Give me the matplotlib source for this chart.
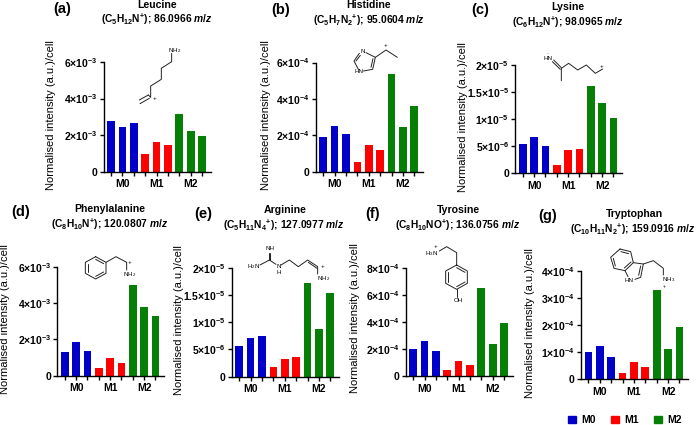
import numpy as np
import matplotlib
matplotlib.use("Agg")
import matplotlib.pyplot as plt
from matplotlib.patches import Patch

plt.rcParams["font.family"] = "Liberation Sans"
plt.rcParams["font.weight"] = "bold"
plt.rcParams["mathtext.fontset"] = "custom"
plt.rcParams["mathtext.rm"] = "Liberation Sans:bold"
plt.rcParams["mathtext.it"] = "Liberation Sans:italic:bold"
plt.rcParams["mathtext.bf"] = "Liberation Sans:bold"
plt.rcParams["mathtext.default"] = "regular"

W, H = 697, 425
BLUE, RED, GREEN = "#0000c8", "#ff0000", "#067f06"

letters = ["(a)", "(b)", "(c)", "(d)", "(e)", "(f)", "(g)"]
names = ["Leucine", "Histidine", "Lysine", "Phenylalanine", "Arginine", "Tyrosine", "Tryptophan"]
formulas = [
    r"(C$_5$H$_{12}$N$^{+}$); 86.0966 $\mathit{m/z}$",
    r"(C$_5$H$_7$N$_2$$^{+}$); 95.0604 $\mathit{m/z}$",
    r"(C$_6$H$_{12}$N$^{+}$); 98.0965 $\mathit{m/z}$",
    r"(C$_8$H$_{10}$N$^{+}$); 120.0807 $\mathit{m/z}$",
    r"(C$_5$H$_{11}$N$_4$$^{+}$); 127.0977 $\mathit{m/z}$",
    r"(C$_8$H$_{10}$NO$^{+}$); 136.0756 $\mathit{m/z}$",
    r"(C$_{10}$H$_{11}$N$_2$$^{+}$); 159.0916 $\mathit{m/z}$",
]

leucine = [2.75e-3, 2.46e-3, 2.68e-3, 0.94e-3, 1.63e-3, 1.45e-3, 3.16e-3, 2.20e-3, 1.93e-3]
histidine = [1.89e-4, 2.50e-4, 2.09e-4, 0.53e-4, 1.45e-4, 1.19e-4, 5.34e-4, 2.44e-4, 3.61e-4]
lysine = [5.4e-6, 6.77e-6, 5.1e-6, 1.54e-6, 4.37e-6, 4.5e-6, 16.1e-6, 13.0e-6, 10.3e-6]
phenylalanine = [1.30e-3, 1.85e-3, 1.36e-3, 0.40e-3, 0.97e-3, 0.70e-3, 4.99e-3, 3.76e-3, 3.30e-3]
arginine = [5.7e-6, 7.16e-6, 7.5e-6, 1.8e-6, 3.3e-6, 3.7e-6, 17.2e-6, 8.75e-6, 15.3e-6]
tyrosine = [1.99e-4, 2.63e-4, 1.87e-4, 0.45e-4, 1.15e-4, 0.83e-4, 6.53e-4, 2.36e-4, 3.93e-4]
tryptophan = [1.00e-4, 1.23e-4, 0.83e-4, 0.23e-4, 0.64e-4, 0.44e-4, 3.31e-4, 1.11e-4, 1.94e-4]
series = [leucine, histidine, lysine, phenylalanine, arginine, tyrosine, tryptophan]

ticks_3 = ([0, 2e-3, 4e-3, 6e-3], ["0", "2×10$^{-3}$", "4×10$^{-3}$", "6×10$^{-3}$"])
ticks_4 = ([0, 2e-4, 4e-4, 6e-4], ["0", "2×10$^{-4}$", "4×10$^{-4}$", "6×10$^{-4}$"])
ticks_5 = ([0, 5e-6, 1e-5, 1.5e-5, 2e-5], ["0", "5×10$^{-6}$", "1×10$^{-5}$", "1.5×10$^{-5}$", "2×10$^{-5}$"])
ticks_8 = ([0, 2e-4, 4e-4, 6e-4, 8e-4], ["0", "2×10$^{-4}$", "4×10$^{-4}$", "6×10$^{-4}$", "8×10$^{-4}$"])
ticks_g = ([0, 1e-4, 2e-4, 3e-4, 4e-4], ["0", "1×10$^{-4}$", "2×10$^{-4}$", "3×10$^{-4}$", "4×10$^{-4}$"])
yticks = [ticks_3, ticks_4, ticks_5, ticks_3, ticks_5, ticks_8, ticks_g]

# left, top, right, bottom of each axes in pixels
boxes = [
    (103.5, 62, 210.7, 171.5), (315.7, 62.5, 423, 171.5), (515.3, 65, 622, 173.3),
    (57.3, 266.7, 164, 375.7), (231.7, 267.7, 339, 376.7), (405.7, 267.7, 512.7, 376.3),
    (581, 271, 688, 379.3),
]
# text centres in pixels
ylabel_pos = [(51, 115), (266, 115), (463, 117), (5.5, 319), (179, 320), (355, 318), (530, 323)]
letter_pos = [(62, 9), (281, 9.5), (480, 10), (21, 212), (203, 214), (373, 214), (548, 216)]
name_pos = [(157, 5), (369, 5), (568, 7), (110, 209), (285, 210), (458, 210), (634, 214)]
formula_pos = [(157, 19), (369, 20), (568, 22), (110, 224), (284, 225), (458, 225), (633, 229)]

fig = plt.figure(figsize=(W / 100, H / 100), dpi=100)
colors = [BLUE] * 3 + [RED] * 3 + [GREEN] * 3

for i, vals in enumerate(series):
    l, t, r, b = boxes[i]
    ax = fig.add_axes([l / W, 1 - b / H, (r - l) / W, (b - t) / H])
    ax.bar(np.arange(9), vals, width=0.68, color=colors)
    ax.set_xlim(-0.66, 8.76)
    ax.set_ylim(0, yticks[i][0][-1])
    ax.set_yticks(yticks[i][0], yticks[i][1], fontsize=7.5)
    ax.set_xticks(np.arange(9))
    ax.set_xticklabels([])
    ax.tick_params(length=3, width=1, pad=1.5)
    for s in ["top", "right"]:
        ax.spines[s].set_visible(False)
    for s in ["left", "bottom"]:
        ax.spines[s].set_linewidth(1)
    for j, lab in zip([1, 4, 7], ["M0", "M1", "M2"]):
        ax.annotate(lab, (j, 0), xycoords=("data", "axes fraction"), xytext=(0, -5.5),
                    textcoords="offset points", ha="center", va="top", fontsize=7.5)

# overlay in pixel coordinates for titles and structures
ov = fig.add_axes([0, 0, 1, 1], zorder=5)
ov.set_xlim(0, W)
ov.set_ylim(H, 0)
ov.axis("off")

for i in range(7):
    ov.text(*ylabel_pos[i], "Normalised intensity (a.u.)/cell", rotation=90, ha="center", va="center",
            fontsize=8, fontweight="normal")
    ov.text(*letter_pos[i], letters[i], ha="center", va="center", fontsize=10.5)
    ov.text(*name_pos[i], names[i], ha="center", va="center", fontsize=7.6)
    ov.text(*formula_pos[i], formulas[i], ha="center", va="center", fontsize=7.4)


def bonds(ox, oy, paths):
    for p in paths:
        a = np.array(p, dtype=float) / 3
        ov.plot(a[:, 0] + ox, a[:, 1] + oy, color="#222222", lw=0.7, solid_capstyle="round")


def label(ox, oy, x, y, s, size=4.5):
    ov.text(ox + x / 3, oy + y / 3, s, ha="center", va="center", fontsize=size, fontweight="normal")


# leucine
bonds(0, 0, [[(515, 160), (515, 185), (484, 205), (484, 238), (452, 258), (452, 292), (445, 285)],
             [(445, 285), (418, 300)], [(448, 295), (420, 311)]])
label(0, 0, 525, 152, "NH$_2$")
label(0, 0, 463, 295, "+")
# histidine
bonds(230, 0, [[(408, 158), (436, 172), (428, 208), (400, 213)], [(385, 208), (372, 183), (388, 160)],
               [(429, 176), (423, 202)], [(378, 183), (391, 166)], [(436, 172), (468, 150), (502, 172)]])
label(230, 0, 397, 154, "N")
label(230, 0, 386, 214, "HN")
label(230, 0, 468, 137, "+")
# lysine
bonds(457, 0, [[(290, 180), (313, 203)], [(286, 185), (310, 208)],
               [(313, 242), (313, 205), (335, 190), (362, 210), (388, 195), (415, 220), (437, 207)]])
label(457, 0, 272, 176, "HN")
label(457, 0, 272, 160, "·")
label(457, 0, 433, 198, "+")
# phenylalanine
bonds(0, 205, [[(287, 155), (318, 172), (318, 205), (287, 222), (256, 205), (256, 172), (287, 155)],
               [(287, 163), (311, 176)], [(311, 201), (287, 214)], [(263, 201), (263, 176)],
               [(318, 172), (348, 155), (380, 172), (380, 195)]])
label(0, 205, 390, 210, "NH$_2$")
label(0, 205, 390, 173, "+")
# arginine
bonds(170, 205, [[(296, 143), (296, 165)], [(301, 143), (301, 165)], [(270, 180), (298, 165), (318, 178)],
                 [(333, 180), (358, 165), (385, 185), (413, 165), (443, 185), (443, 207)], [(415, 172), (441, 190)]])
label(170, 205, 300, 130, "NH")
label(170, 205, 252, 185, "H$_2$N")
label(170, 205, 325, 186, "N")
label(170, 205, 325, 203, "H")
label(170, 205, 460, 220, "NH$_2$")
label(170, 205, 458, 183, "+")
# tyrosine
bonds(350, 205, [[(268, 138), (290, 125), (320, 143), (320, 180), (352, 198), (352, 235), (320, 253),
                  (287, 235), (287, 198), (320, 180)], [(320, 188), (345, 202)], [(345, 231), (320, 245)],
                 [(294, 231), (294, 202)], [(320, 253), (320, 275)]])
label(350, 205, 245, 145, "H$_3$N")
label(350, 205, 258, 125, "+")
label(350, 205, 325, 287, "OH")
# tryptophan
bonds(600, 240, [[(60, 27), (92, 35), (100, 68), (75, 92), (42, 85), (32, 52), (60, 27)],
                 [(63, 35), (86, 41)], [(93, 66), (73, 84)], [(46, 78), (40, 55)],
                 [(100, 68), (130, 72), (122, 112), (105, 118)], [(75, 92), (84, 110)],
                 [(122, 78), (116, 106)], [(130, 72), (160, 62), (190, 85), (190, 105)]])
label(600, 240, 86, 122, "HN")
label(600, 240, 205, 119, "NH$_3$")
label(600, 240, 192, 138, "+", size=3.5)

handles = [Patch(color=BLUE, label="M0"), Patch(color=RED, label="M1"), Patch(color=GREEN, label="M2")]
fig.legend(handles=handles, loc="center", bbox_to_anchor=(625 / W, 1 - 420 / H), ncol=3, frameon=False,
           fontsize=7.5, handlelength=0.77, handleheight=0.72, handletextpad=0.5, columnspacing=1.45,
           borderpad=0, borderaxespad=0)

fig.savefig("out.png", dpi=100)
